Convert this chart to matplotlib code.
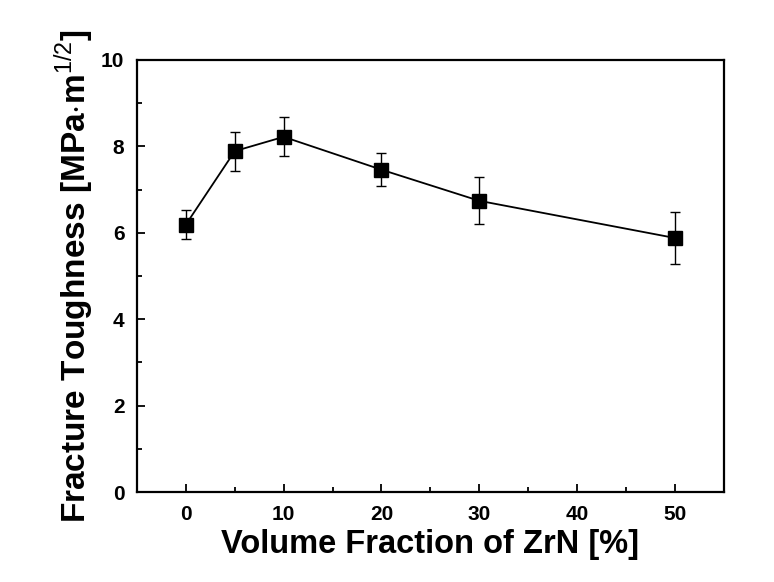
import matplotlib
matplotlib.use("Agg")
import matplotlib.pyplot as plt
from matplotlib import font_manager
from matplotlib.ticker import MultipleLocator

names = {f.name for f in font_manager.fontManager.ttflist}
family = "Liberation Sans Narrow" if "Liberation Sans Narrow" in names else "Liberation Sans"
plt.rcParams["font.family"] = [family, "DejaVu Sans"]
plt.rcParams["mathtext.fontset"] = "custom"
plt.rcParams["mathtext.rm"] = family
plt.rcParams["mathtext.bf"] = family + ":bold"

zrn_fraction = [0, 5, 10, 20, 30, 50]
toughness = [6.19, 7.89, 8.22, 7.46, 6.74, 5.88]
toughness_err = [0.34, 0.45, 0.45, 0.38, 0.54, 0.61]

fig = plt.figure(figsize=(7.74, 5.82), dpi=100)
ax = fig.add_axes([0.177, 0.1546, 0.758, 0.7424])

ax.errorbar(zrn_fraction, toughness, yerr=toughness_err, color="black",
            marker="s", markersize=9.5, linewidth=1.3, elinewidth=1.0,
            capsize=3.5, capthick=1.0)

ax.set_xlim(-5, 55)
ax.set_ylim(0, 10)
ax.xaxis.set_major_locator(MultipleLocator(10))
ax.xaxis.set_minor_locator(MultipleLocator(5))
ax.yaxis.set_major_locator(MultipleLocator(2))
ax.yaxis.set_minor_locator(MultipleLocator(1))
ax.tick_params(which="both", direction="in", top=False, right=False, width=1.3)
ax.tick_params(which="major", length=6, labelsize=15, pad=9)
ax.tick_params(which="minor", length=3.5)
for lab in ax.get_xticklabels() + ax.get_yticklabels():
    lab.set_fontweight("bold")
for s in ax.spines.values():
    s.set_linewidth(1.6)

ax.set_xlabel("Volume Fraction of ZrN [%]", fontsize=23.5, fontweight="bold", labelpad=4)
ax.set_ylabel(r"Fracture Toughness [MPa$\cdot$m$^{1/2}$]", fontsize=24,
              fontweight="bold", labelpad=4)

fig.savefig("out.png", dpi=100)
